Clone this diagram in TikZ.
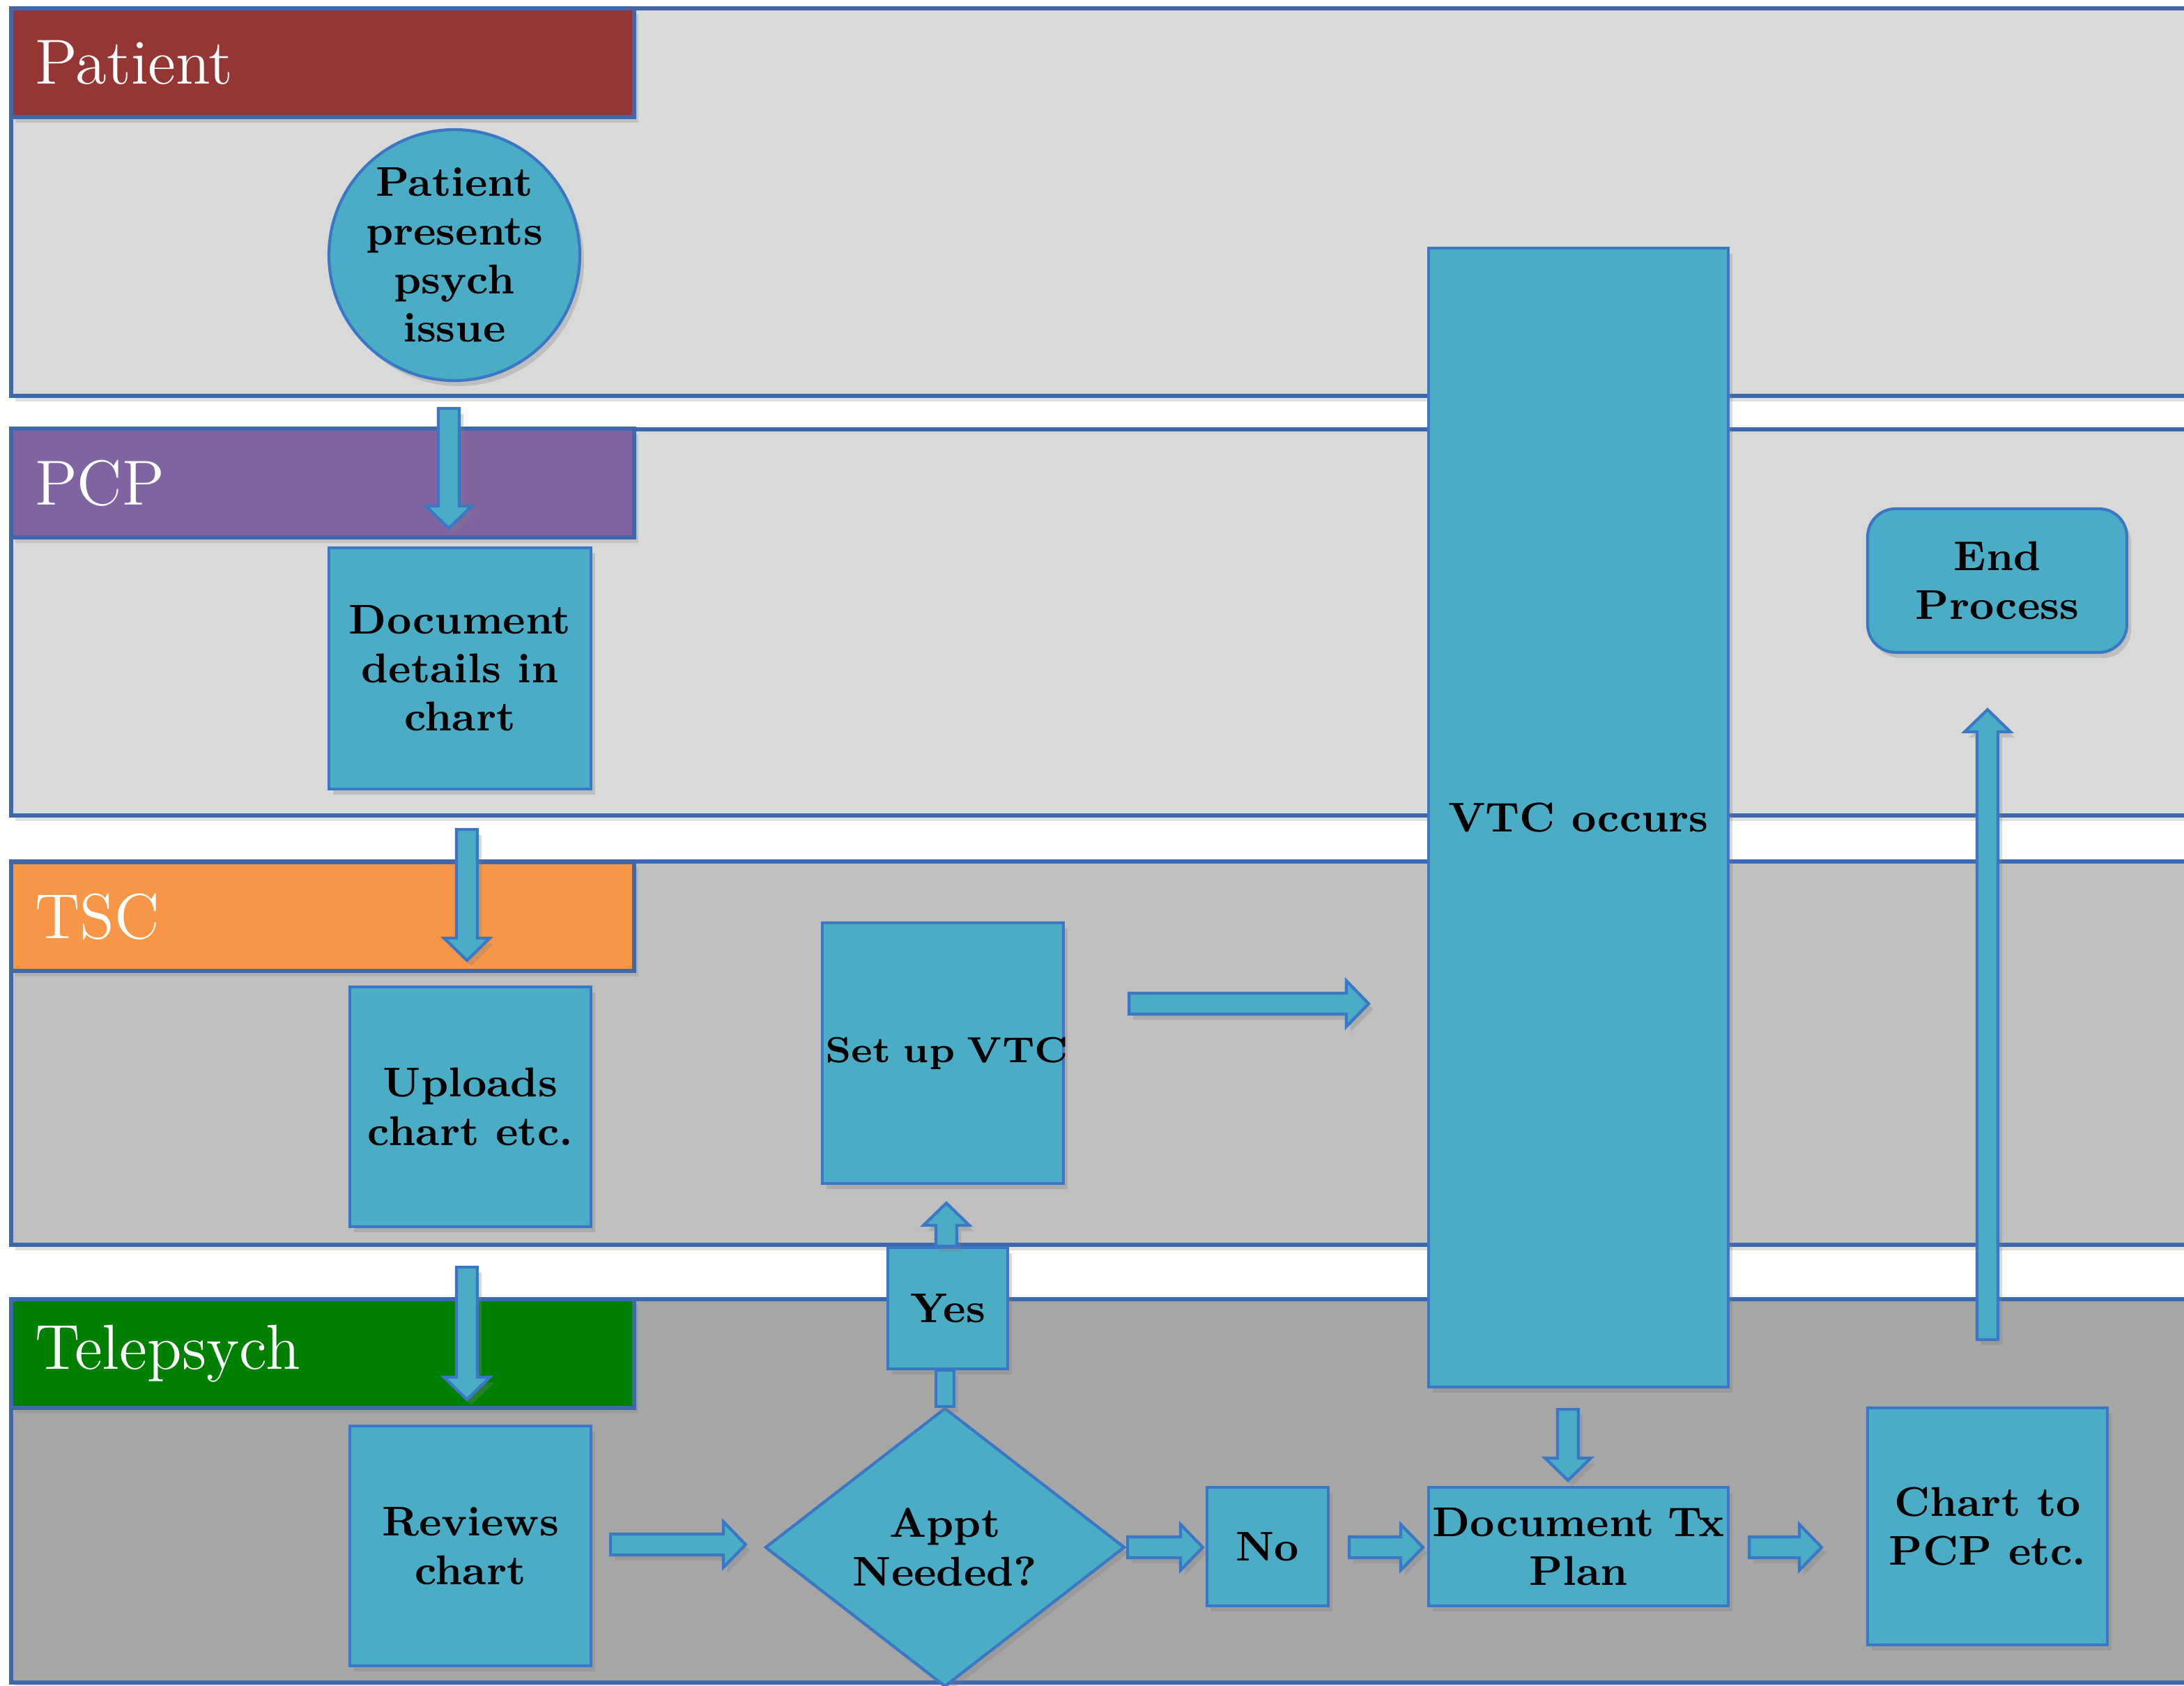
\documentclass[tikz,border=0pt]{standalone}
\usetikzlibrary{shapes.geometric,calc,shadows}
\definecolor{laneA}{HTML}{D9D9D9}
\definecolor{laneC}{HTML}{BFBFBF}
\definecolor{laneD}{HTML}{A6A6A6}
\definecolor{nodefill}{HTML}{4BACC6}
\definecolor{nodeborder}{HTML}{3A78C6}
\definecolor{laneborder}{HTML}{3F67AE}
\definecolor{hdrred}{HTML}{943634}
\definecolor{hdrpurple}{HTML}{8064A2}
\definecolor{hdrorange}{HTML}{F79646}
\definecolor{hdrgreen}{HTML}{008000}
\newcommand\boxfont{\fontsize{8.5}{9.9}\selectfont\bfseries}
\newcommand\blockarrow[2]{%
  \draw[barrowsty] let \p1=(#1), \p2=(#2),
     \n1={atan2(\y2-\y1,\x2-\x1)},
     \n2={veclen(\x2-\x1,\y2-\y1)} in
     [shift={(\x1,\y1)}, rotate=\n1]
     (0pt,-0.75mm) -- ({\n2*1pt-1.6mm},-0.75mm) -- ({\n2*1pt-1.6mm},-1.65mm)
     -- ({\n2*1pt},0pt) -- ({\n2*1pt-1.6mm},1.65mm) -- ({\n2*1pt-1.6mm},0.75mm)
     -- (0pt,0.75mm) -- cycle;%
}
\begin{document}
\begin{tikzpicture}[x=0.1mm, y=-0.1mm,
  lane/.style={draw=laneborder, line width=0.75pt,
    drop shadow={opacity=0.25, shadow xshift=0.3mm, shadow yshift=-0.4mm}},
  hdr/.style={draw=laneborder, line width=0.75pt, text=white,
    font=\fontsize{13}{15}\selectfont, minimum width=44.7mm, minimum height=7.8mm,
    text width=41.3mm, inner xsep=1.7mm, align=left,
    drop shadow={opacity=0.25, shadow xshift=0.3mm, shadow yshift=-0.4mm}},
  proc/.style={draw=nodeborder, fill=nodefill, line width=0.6pt, align=center,
    font=\boxfont, inner sep=0.5mm,
    drop shadow={opacity=0.3, shadow xshift=0.3mm, shadow yshift=-0.4mm}},
  barrowsty/.style={draw=nodeborder, fill=nodefill, line width=0.6pt, line join=miter,
    drop shadow={opacity=0.3, shadow xshift=0.3mm, shadow yshift=-0.4mm}}
]
\useasboundingbox (0,0) rectangle (1567,1209);
\fill[white] (0,0) rectangle (1567,1209);

% lanes
\draw[lane, fill=laneA] (8,6) rectangle (1580,284);
\draw[lane, fill=laneA] (8,308) rectangle (1580,585);
\draw[lane, fill=laneC] (8,618) rectangle (1580,893);
\draw[lane, fill=laneD] (8,932) rectangle (1580,1207);

% headers
\node[hdr, fill=hdrred] (hP) at (231.5,45) {Patient};
\node[hdr, fill=hdrpurple] (hPCP) at (231.5,346.5) {PCP};
\node[hdr, fill=hdrorange] (hTSC) at (231.5,657.5) {TSC};
\node[hdr, fill=hdrgreen] (hTel) at (231.5,971) {Telepsych};

% nodes
\node[proc, circle, minimum size=18mm] (circ) at (326,183) {};
\node[font=\boxfont, align=center] (circtxt) at (circ.center) {Patient\\presents\\psych\\issue};
\node[proc, minimum width=18.8mm, minimum height=17.3mm] (doc1) at (330,479.5) {Document\\details in\\chart};
\node[proc, minimum width=17.3mm, minimum height=17.2mm] (upl) at (337.5,794) {Uploads\\chart etc.};
\node[proc, minimum width=17.3mm, minimum height=17.2mm] (rev) at (337.5,1109) {Reviews\\chart};
\node[proc, diamond, minimum width=25.8mm, minimum height=20mm, inner sep=0pt] (dia) at (678,1110) {Appt\\Needed?};
\node[proc, minimum width=8.6mm, minimum height=8.7mm] (yes) at (680,938.5) {Yes};
\node[proc, text width=16.9mm, inner xsep=0.2mm, minimum height=18.7mm,
      font=\fontsize{7.4}{9.5}\selectfont\bfseries] (setup) at (676.5,755.5) {\mbox{Set up VTC}};
\node[proc, minimum width=21.5mm, minimum height=81.7mm] (vtc) at (1132.5,586.5) {VTC occurs};
\node[proc, minimum width=8.7mm, minimum height=8.5mm] (no) at (909.5,1109.5) {No};
\node[proc, text width=21mm, inner xsep=0.25mm, minimum height=8.5mm] (doctx) at (1132.5,1109.5) {Document Tx\\Plan};
\node[proc, minimum width=17.2mm, minimum height=17mm] (chart) at (1426,1095) {Chart to\\PCP etc.};
\node[proc, rounded corners=2mm, minimum width=18.6mm, minimum height=10.3mm] (endp) at (1433,416.5) {End\\Process};

% arrow end points
\coordinate (a1s) at ($(circ.south)+(-4,19)$);
\coordinate (a1e) at ($(doc1.north)+(-8,-13)$);
\coordinate (a2s) at ($(doc1.south)+(5,28)$);
\coordinate (a2e) at ($(upl.north)+(-2.5,-18)$);
\coordinate (a3s) at ($(upl.south)+(-2.5,28)$);
\coordinate (a3e) at ($(rev.north)+(-2.5,-18)$);
\coordinate (a4s) at ($(rev.east)+(13,-1)$);
\coordinate (a4e) at ($(dia.west)+(-13,-2)$);
\coordinate (a5s) at ($(yes.north)+(-1,0)$);
\coordinate (a5e) at ($(setup.south)+(2.5,13)$);
\coordinate (a6s) at ($(setup.east)+(46,-35.5)$);
\coordinate (a6e) at ($(vtc.west)+(-42,133.5)$);
\coordinate (a7s) at ($(dia.east)+(1,0)$);
\coordinate (a7e) at ($(no.west)+(-2,0.5)$);
\coordinate (a8s) at ($(no.east)+(14,0.5)$);
\coordinate (a8e) at ($(doctx.west)+(-3,0.5)$);
\coordinate (a9s) at ($(vtc.south)+(-7.5,15)$);
\coordinate (a9e) at ($(doctx.north)+(-7.5,-4)$);
\coordinate (a10s) at ($(doctx.east)+(14,0.5)$);
\coordinate (a10e) at ($(chart.west)+(-32,15)$);
\coordinate (a11s) at ($(chart.north)+(0,-48)$);
\coordinate (a11e) at ($(endp.south)+(-7,40)$);

% arrows
\draw[barrowsty] ($(yes.south)+(-8.5,0)$) rectangle ($(dia.north)+(6.5,0)$);
\blockarrow{a1s}{a1e}
\blockarrow{a2s}{a2e}
\blockarrow{a3s}{a3e}
\blockarrow{a4s}{a4e}
\blockarrow{a5s}{a5e}
\blockarrow{a6s}{a6e}
\blockarrow{a7s}{a7e}
\blockarrow{a8s}{a8e}
\blockarrow{a9s}{a9e}
\blockarrow{a10s}{a10e}
\blockarrow{a11s}{a11e}
\end{tikzpicture}
\end{document}
